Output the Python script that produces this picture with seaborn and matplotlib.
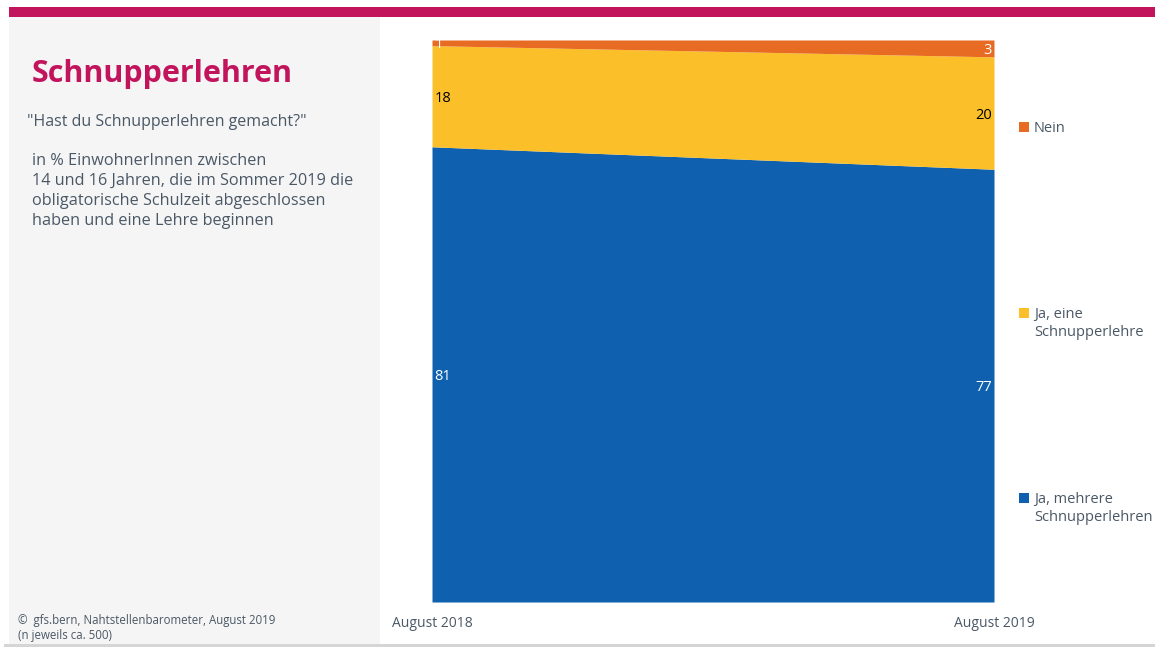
import matplotlib
matplotlib.use("Agg")
import matplotlib.pyplot as plt
from matplotlib.patches import Rectangle
import seaborn as sns
import numpy as np

# Survey waves and answer shares (in %)
waves = ["August 2018", "August 2019"]
ja_mehrere = [81, 77]
ja_eine = [18, 20]
nein = [1, 3]

series_names = ["Ja, mehrere\nSchnupperlehren", "Ja, eine\nSchnupperlehre", "Nein"]
colors = ["#0F60AE", "#FBBF2A", "#E86B23"]
label_colors = ["white", "black", "white"]

sns.set_theme(style="white")
plt.rcParams["font.family"] = ["Open Sans", "DejaVu Sans"]

W, H = 1155, 647
fig = plt.figure(figsize=(W / 100, H / 100), dpi=100)
fig.patch.set_facecolor("white")

def px(x0, y0, w, h):
    return [x0 / W, 1 - (y0 + h) / H, w / W, h / H]

# Background panels and bars
fig.patches.append(Rectangle((9 / W, 1 - 645 / H), 371 / W, 628 / H,
                             transform=fig.transFigure, facecolor="#F5F5F5",
                             edgecolor="none", zorder=0))
fig.patches.append(Rectangle((9 / W, 1 - 17 / H), 1146 / W, 10 / H,
                             transform=fig.transFigure, facecolor="#C2135D",
                             edgecolor="none", zorder=1))
fig.patches.append(Rectangle((4 / W, 0), 1151 / W, 3 / H,
                             transform=fig.transFigure, facecolor="#D5D5D5",
                             edgecolor="none", zorder=1))

# Stacked area chart
ax = fig.add_axes(px(432, 40, 562, 562))
x = np.arange(len(waves))
stack = [np.array(ja_mehrere), np.array(ja_eine), np.array(nein)]
ax.stackplot(x, *stack, colors=colors, linewidth=0)
ax.set_xlim(0, len(waves) - 1)
ax.set_ylim(0, 100)
ax.set_yticks([])
ax.set_xticks(x)
ax.set_xticklabels(waves, fontsize=10, color="#4A5866")
ax.tick_params(axis="x", length=0, pad=10)
for s in ax.spines.values():
    s.set_visible(False)
ax.set_facecolor("white")

# Value labels at both ends of each band
base = np.zeros(len(waves))
for vals, lc in zip(stack, label_colors):
    mids = base + vals / 2
    for i, (v, m) in enumerate(zip(vals, mids)):
        if i == 0:
            ax.text(i + 0.004, m, f"{v}", ha="left", va="center_baseline",
                    fontsize=10.5, color=lc)
        else:
            ax.text(i - 0.004, m, f"{v}", ha="right", va="center_baseline",
                    fontsize=10.5, color=lc)
    base = base + vals

# Legend entries beside the bands
legend_pos = [(series_names[2], colors[2], 127),
              (series_names[1], colors[1], 313),
              (series_names[0], colors[0], 498)]
for name, col, yc in legend_pos:
    fig.patches.append(Rectangle((1019 / W, 1 - (yc + 5) / H), 10 / W, 10 / H,
                                 transform=fig.transFigure, facecolor=col,
                                 edgecolor="none"))
    fig.text(1034 / W, 1 - (yc - 6) / H, name, ha="left", va="top",
             fontsize=10.5, color="#4A5866", linespacing=1.3)

# Title block
fig.text(32 / W, 1 - 82 / H, "Schnupperlehren", fontsize=22, fontweight="bold",
         color="#C2135D", ha="left", va="baseline")
fig.text(27 / W, 1 - 122 / H, "\"Hast du Schnupperlehren gemacht?\"",
         fontsize=11.5, color="#4A5866", ha="left", va="center")
fig.text(32 / W, 1 - 153 / H,
         "in % EinwohnerInnen zwischen\n14 und 16 Jahren, die im Sommer 2019 die\n"
         "obligatorische Schulzeit abgeschlossen\nhaben und eine Lehre beginnen",
         fontsize=11.7, color="#4A5866", ha="left", va="top", linespacing=1.33)

# Source note
fig.text(18 / W, 1 - 614 / H, "©  gfs.bern, Nahtstellenbarometer, August 2019\n(n jeweils ca. 500)",
         fontsize=8.3, color="#4A5866", ha="left", va="top", linespacing=1.15)

fig.savefig("out.png", dpi=100)
